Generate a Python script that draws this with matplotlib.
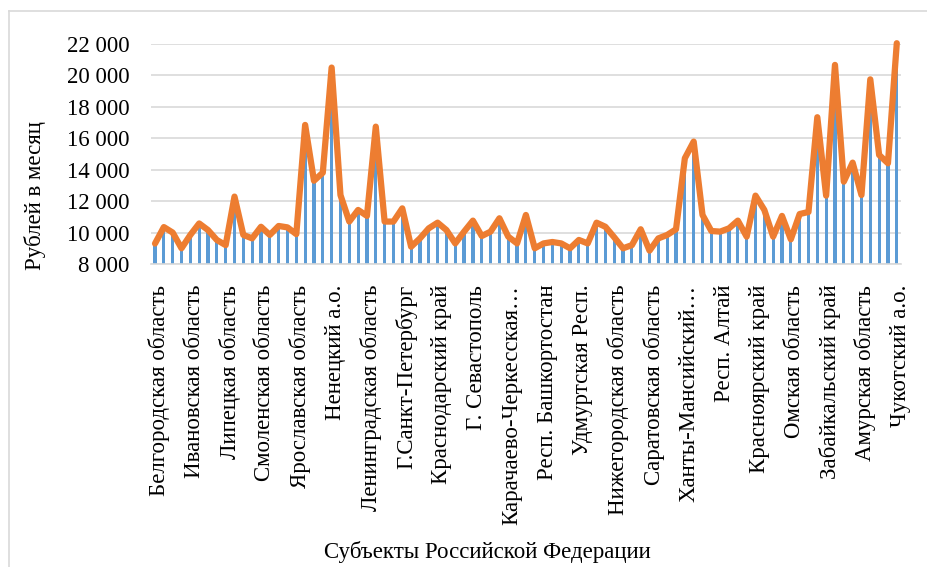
import matplotlib
matplotlib.use("Agg")
import matplotlib.pyplot as plt
from matplotlib.lines import Line2D
from matplotlib.ticker import FuncFormatter, FixedLocator
from matplotlib.transforms import ScaledTranslation

plt.rcParams['font.family'] = ['Liberation Serif', 'DejaVu Serif']

# 85 subjects; labels shown for every 4th category
tick_labels = [
    "Белгородская область", "Ивановская область", "Липецкая область",
    "Смоленская область", "Ярославская область", "Ненецкий а.о.",
    "Ленинградская область", "Г.Санкт-Петербург", "Краснодарский край",
    "Г. Севастополь", "Карачаево-Черкесская…", "Респ. Башкортостан",
    "Удмуртская Респ.", "Нижегородская область", "Саратовская область",
    "Ханты-Мансийский…", "Респ. Алтай", "Красноярский край",
    "Омская область", "Забайкальский край", "Амурская область",
    "Чукотский а.о.",
]

values = [
    9300, 10350, 10000, 9000, 9850, 10580, 10160, 9530, 9200, 12290,
    9850, 9630, 10370, 9850, 10420, 10330, 9900, 16850, 13300, 13810,
    20500, 12390, 10700, 11440, 11060, 16740, 10700, 10700, 11540, 9100,
    9630, 10270, 10630, 10160, 9310, 10060, 10760, 9780, 10060, 10910,
    9740, 9310, 11120, 9000, 9310, 9400, 9310, 9000, 9530, 9310,
    10630, 10370, 9700, 9000, 9200, 10210, 8850, 9630, 9850, 10210,
    14730, 15790, 11120, 10100, 10060, 10270, 10760, 9740, 12350, 11440,
    9740, 11060, 9570, 11180, 11310, 17340, 12350, 20670, 13240, 14450,
    12390, 19750, 14940, 14410, 22050,
]

yticks = [8000, 10000, 12000, 14000, 16000, 18000, 20000, 22000]

W, H = 927, 567
fig = plt.figure(figsize=(W / 100, H / 100), dpi=100)
ax = fig.add_axes([150.6 / W, 1 - 264 / H, (901.2 - 150.6) / W, (264 - 44) / H])

x = list(range(len(values)))
ax.bar(x, [v - yticks[0] for v in values], bottom=yticks[0], width=0.36,
       color='#5B9BD5', zorder=2)
ax.plot(x, values, color='#ED7D31', linewidth=4.5, zorder=3, clip_on=False,
        solid_joinstyle='round', solid_capstyle='round')

ax.set_xlim(-0.5, len(values) - 0.5)
ax.set_ylim(yticks[0], yticks[-1])
ax.yaxis.set_major_locator(FixedLocator(yticks))
ax.yaxis.set_major_formatter(FuncFormatter(lambda v, p: f"{int(v):,}".replace(",", " ")))
ax.set_xticks(x[::4])
ax.set_xticklabels(tick_labels, rotation=90, ha='center', va='top')
ax.tick_params(axis='x', length=0, pad=15, labelsize=16.5)
ax.tick_params(axis='y', length=0, pad=15, labelsize=16.5)
offset = ScaledTranslation(4 / 100, 0, fig.dpi_scale_trans)
for lbl in ax.get_xticklabels():
    lbl.set_transform(lbl.get_transform() + offset)

ax.grid(axis='y', color='#D9D9D9', linewidth=1.2, zorder=0)
ax.set_axisbelow(True)
for s in ['top', 'right', 'left']:
    ax.spines[s].set_visible(False)
ax.spines['bottom'].set_color('#D9D9D9')
ax.spines['bottom'].set_linewidth(1.2)

fig.text(35 / W, 1 - 196 / H, "Рублей в месяц", rotation=90, ha='center',
         va='center', fontsize=16.5)
fig.text(487 / W, 1 - 552 / H, "Субъекты Российской Федерации", ha='center',
         va='center', fontsize=16.5)

# chart frame (partially visible)
fig.add_artist(Line2D([8.5 / W, 8.5 / W], [0, 1 - 11 / H], transform=fig.transFigure,
                      color='#D9D9D9', linewidth=1.2))
fig.add_artist(Line2D([8.5 / W, 1], [1 - 11 / H, 1 - 11 / H], transform=fig.transFigure,
                      color='#D9D9D9', linewidth=1.2))

fig.savefig("out.png", dpi=100)
